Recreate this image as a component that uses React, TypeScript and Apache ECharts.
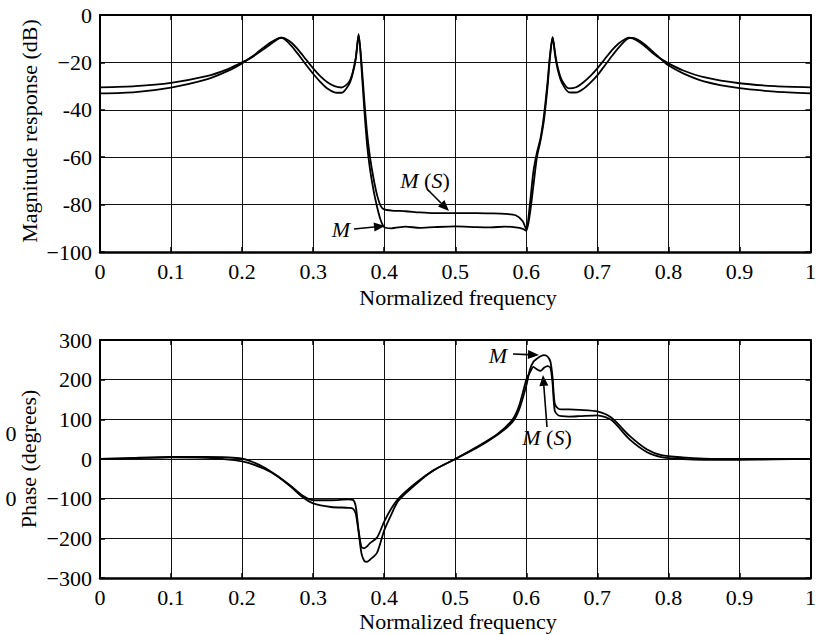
import React, { useEffect, useRef } from "react";
import * as echarts from "echarts";

const FONT = '"Liberation Serif", "DejaVu Serif", serif';

// ---------- data ----------
const xTickLabels = ["0", "0.1", "0.2", "0.3", "0.4", "0.5", "0.6", "0.7", "0.8", "0.9", "1"];
const magTickLabels = ["\u2212100", "-80", "-60", "-40", "\u221220", "0"]; // from -100 to 0
const phaseTickLabels = ["\u2212300", "\u2212200", "\u2212100", "0", "100", "200", "300"]; // -300..300

const freqMag = [
  0, 0.05, 0.1, 0.15, 0.18, 0.2, 0.21, 0.22, 0.23, 0.24,
  0.25, 0.255, 0.26, 0.27, 0.28, 0.29, 0.3, 0.31, 0.32, 0.33,
  0.34, 0.35, 0.355, 0.36, 0.364, 0.368, 0.372, 0.376, 0.38, 0.385,
  0.39, 0.395, 0.4, 0.41, 0.43, 0.45, 0.47, 0.5, 0.53, 0.55,
  0.57, 0.585, 0.595, 0.6, 0.605, 0.61, 0.615, 0.62, 0.625, 0.63,
  0.633, 0.637, 0.641, 0.645, 0.65, 0.66, 0.67, 0.68, 0.69, 0.7,
  0.71, 0.72, 0.73, 0.74, 0.745, 0.75, 0.76, 0.77, 0.78, 0.79,
  0.8, 0.82, 0.85, 0.9, 0.95, 1.0,
];

const magMS = [
  -30.5, -30.0, -28.6, -25.8, -22.8, -20.0, -18.5, -16.6, -14.5, -12.3,
  -10.2, -9.6, -9.8, -11.8, -15.0, -18.8, -22.5, -25.8, -28.4, -30.0,
  -30.6, -28.5, -25.0, -18.0, -8.5, -20.0, -36.0, -50.0, -60.0, -69.0,
  -76.0, -80.5, -82.0, -82.5, -82.8, -83.3, -83.6, -83.6, -83.6, -83.7,
  -83.9, -84.5, -87.0, -90.5, -80.0, -66.0, -58.0, -52.0, -42.0, -28.0,
  -18.0, -9.3, -17.0, -23.0, -27.5, -31.0, -30.5, -28.5, -25.8, -22.5,
  -18.8, -15.0, -12.0, -10.0, -9.6, -9.9, -11.6, -14.0, -16.6, -18.6,
  -20.4, -23.3, -26.2, -28.8, -30.0, -30.5,
];

const magM = [
  -33.1, -32.5, -30.6, -27.2, -23.6, -20.4, -18.4, -16.2, -13.8, -11.6,
  -9.9, -9.6, -10.3, -13.2, -17.0, -21.0, -24.8, -28.2, -31.0, -32.6,
  -32.8, -29.5, -25.5, -18.5, -8.0, -22.0, -40.0, -55.0, -65.0, -74.0,
  -81.0, -86.5, -89.5, -90.0, -89.3, -89.8, -89.5, -89.2, -89.5, -89.6,
  -89.3, -89.6, -90.2, -91.0, -84.0, -72.0, -60.0, -53.0, -44.0, -30.0,
  -19.0, -9.5, -18.0, -24.0, -28.5, -32.6, -32.7, -31.2, -28.6, -25.5,
  -21.5, -17.5, -13.8, -10.6, -9.7, -9.7, -11.0, -13.3, -16.0, -18.7,
  -21.2, -24.5, -28.0, -30.9, -32.3, -33.1,
];

const freqPhase = [
  0, 0.05, 0.1, 0.15, 0.2, 0.23, 0.25, 0.27, 0.285, 0.3,
  0.325, 0.35, 0.356, 0.36, 0.364, 0.368, 0.372, 0.376, 0.38, 0.39,
  0.4, 0.41, 0.42, 0.445, 0.47, 0.5, 0.53, 0.56, 0.58, 0.59,
  0.6, 0.605, 0.61, 0.615, 0.62, 0.625, 0.63, 0.634, 0.637, 0.64,
  0.645, 0.65, 0.66, 0.675, 0.7, 0.72, 0.745, 0.77, 0.79, 0.82,
  0.85, 0.9, 0.95, 1.0,
];

const phaseM = [
  0, 2, 4, 3, -6, -24, -44, -72, -96, -112,
  -121, -123, -125, -138, -185, -238, -257, -259, -254, -236,
  -180, -140, -105, -63, -28, 0, 28, 62, 92, 125,
  185, 225, 245, 253, 259, 262, 258, 245, 205, 140,
  127, 125, 125, 124, 120, 104, 59, 24, 10, 4,
  1, 0, 0, 0,
];

const phaseMS = [
  0, 3, 5, 5, 1, -20, -43, -70, -92, -104,
  -104, -102, -103, -120, -180, -222, -225, -220, -212, -198,
  -158, -125, -100, -60, -28, 0, 30, 64, 98, 135,
  200, 218, 232, 226, 222, 230, 234, 230, 190, 122,
  110, 108, 107, 108, 110, 98, 50, 17, 5, 0,
  -2, -2, -1, 0,
];

// ---------- helpers ----------
function arrow(x1: number, y1: number, x2: number, y2: number) {
  const ang = Math.atan2(y2 - y1, x2 - x1);
  const L = 11, W = 4.5;
  const bx = x2 - L * Math.cos(ang), by = y2 - L * Math.sin(ang);
  const px = -Math.sin(ang) * W, py = Math.cos(ang) * W;
  return [
    { type: "line", shape: { x1, y1, x2: bx, y2: by }, style: { stroke: "#000", lineWidth: 1.6 } },
    { type: "polygon", shape: { points: [[x2, y2], [bx + px, by + py], [bx - px, by - py]] }, style: { fill: "#000" } },
  ];
}

function labelText(x: number, y: number, ms: boolean) {
  return {
    type: "text",
    x, y,
    style: {
      text: ms ? "{i|M} ({i|S})" : "{i|M}",
      align: "center",
      verticalAlign: "middle",
      font: `22px ${FONT}`,
      fill: "#000",
      rich: { i: { fontStyle: "italic", fontFamily: FONT, fontSize: 22, fill: "#000" } },
    },
  };
}

function plainText(x: number, y: number, text: string, rotate = 0) {
  return {
    type: "text",
    x, y,
    rotation: rotate,
    style: { text, align: "center", verticalAlign: "middle", font: `22px ${FONT}`, fill: "#000" },
  };
}

const xLabelFmt = (v: number) => xTickLabels[Math.round(v * 10)] ?? "";

function makeX(gridIndex: number, top: boolean) {
  return {
    type: "value",
    gridIndex,
    min: 0,
    max: 1,
    interval: 0.1,
    position: top ? "top" : "bottom",
    axisLine: { show: true, onZero: false, lineStyle: { color: "#000", width: top ? 2 : 2.5 } },
    axisTick: { show: true, inside: true, length: 5, lineStyle: { color: "#000", width: 1.5 } },
    axisLabel: top
      ? { show: false }
      : { show: true, formatter: xLabelFmt, fontFamily: FONT, fontSize: 22, color: "#000", margin: 8 },
    splitLine: top ? { show: false } : { show: true, lineStyle: { color: "#111", width: 1 } },
  };
}

function makeY(gridIndex: number, right: boolean, min: number, max: number, interval: number, labels: string[]) {
  return {
    type: "value",
    gridIndex,
    min,
    max,
    interval,
    position: right ? "right" : "left",
    axisLine: { show: true, onZero: false, lineStyle: { color: "#000", width: 2 } },
    axisTick: { show: true, inside: true, length: 5, lineStyle: { color: "#000", width: 1.5 } },
    axisLabel: right
      ? { show: false }
      : {
          show: true,
          formatter: (v: number) => labels[Math.round((v - min) / interval)] ?? "",
          fontFamily: FONT,
          fontSize: 22,
          color: "#000",
          margin: 8,
        },
    splitLine: right ? { show: false } : { show: true, lineStyle: { color: "#111", width: 1 } },
  };
}

function lineSeries(name: string, xi: number, yi: number, xs: number[], ys: number[]) {
  return {
    name,
    type: "line",
    xAxisIndex: xi,
    yAxisIndex: yi,
    data: xs.map((x, i) => [x, ys[i]]),
    showSymbol: false,
    smooth: 0.25,
    lineStyle: { color: "#000", width: 1.8 },
    itemStyle: { color: "#000" },
    z: 5,
  };
}

export default function App() {
  const ref = useRef<HTMLDivElement>(null);

  useEffect(() => {
    if (!ref.current) return;
    const chart = echarts.init(ref.current, undefined, { renderer: "svg" });
    const option: any = {
      animation: false,
      backgroundColor: "#fff",
      grid: [
        { left: 100, top: 15, width: 715, height: 237 },
        { left: 100, top: 340, width: 715, height: 238 },
      ],
      xAxis: [makeX(0, false), makeX(0, true), makeX(1, false), makeX(1, true)],
      yAxis: [
        makeY(0, false, -100, 0, 20, magTickLabels),
        makeY(0, true, -100, 0, 20, magTickLabels),
        makeY(1, false, -300, 300, 100, phaseTickLabels),
        makeY(1, true, -300, 300, 100, phaseTickLabels),
      ],
      series: [
        lineSeries("M(S)", 0, 0, freqMag, magMS),
        lineSeries("M", 0, 0, freqMag, magM),
        lineSeries("M(S) phase", 2, 2, freqPhase, phaseMS),
        lineSeries("M phase", 2, 2, freqPhase, phaseM),
      ],
      graphic: [
        plainText(29, 131, "Magnitude response (dB)", Math.PI / 2),
        plainText(28, 459, "Phase (degrees)", Math.PI / 2),
        plainText(458, 297, "Normalized frequency"),
        plainText(458, 621, "Normalized frequency"),
        plainText(11, 433, "0"),
        plainText(11, 498, "0"),
        labelText(425, 180, true),
        ...arrow(427, 189, 449, 211),
        labelText(341, 229, false),
        ...arrow(354, 229, 385, 226),
        labelText(498, 355, false),
        ...arrow(513, 354, 539, 355),
        labelText(547, 437, true),
        ...arrow(547, 427, 543, 375),
      ],
    };
    chart.setOption(option);
    return () => chart.dispose();
  }, []);

  return (
    <div
      ref={ref}
      style={{ position: "fixed", left: 0, top: 0, width: 819, height: 635, background: "#fff" }}
    />
  );
}
